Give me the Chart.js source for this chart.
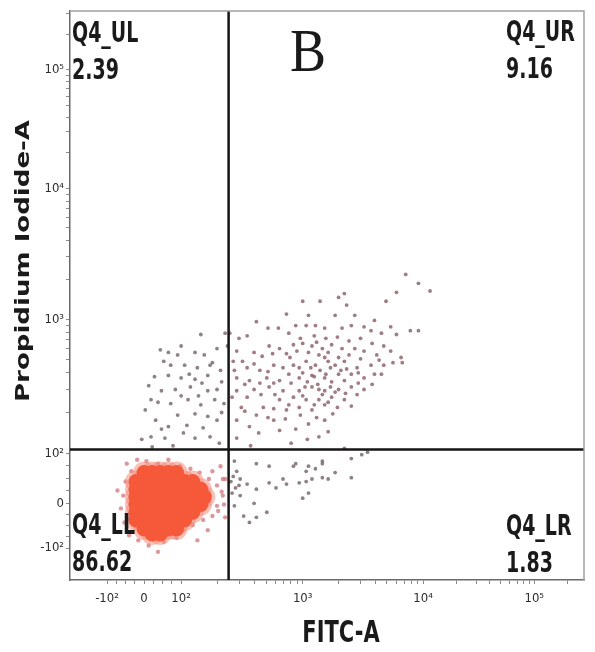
<!DOCTYPE html>
<html>
<head>
<meta charset="utf-8">
<script src="https://cdn.jsdelivr.net/npm/chart.js@4"></script>
<style>
  body { margin: 0; background: #fff; }
  #wrap { width: 595px; height: 652px; position: relative; }
</style>
</head>
<body>
<div id="wrap"><canvas id="plot"></canvas></div>
<script>
// axis units: display decades (biexponential-like), 10^3 = 3, 10^4 ~ 4 ...
const xRange = [0.99, 5.43]
const yRange = [1.01, 5.46]
const xTickVals = [1.31, 1.63, 1.95, 3, 4.04, 5]
const xTickLabels = ['-10²', '0', '10²', '10³', '10⁴', '10⁵']
const yTickVals = [1.26, 1.61, 2, 3.05, 4.07, 5]
const yTickLabels = ['-10²', '0', '10²', '10³', '10⁴', '10⁵']

// quadrant gate
const gateFitc = 2.36
const gatePI = 2.03
const quadNames = ['Q4_UL', 'Q4_UR', 'Q4_LL', 'Q4_LR']
const quadPercents = [2.39, 9.16, 86.62, 1.83]

// events [FITC, PI]
const ulEvents = [
  [2.12,2.93],[1.77,2.81],[1.84,2.79],[1.92,2.77],[2.07,2.79],[2.15,2.77],[2.26,2.82],[2.35,2.84],
  [1.86,2.69],[1.98,2.69],[2.09,2.67],[2.20,2.69],[2.29,2.65],
  [1.84,2.61],[1.95,2.59],[2.07,2.58],[2.18,2.61],
  [1.67,2.53],[1.78,2.49],[1.90,2.50],[2.03,2.52],[2.18,2.49],[2.26,2.50],
  [1.69,2.42],[1.86,2.39],[2.01,2.42],[2.12,2.38],[2.24,2.42],[2.32,2.39],
  [1.64,2.34],[1.73,2.26],[1.84,2.21],[1.78,2.19],[1.92,2.30],[2.07,2.31],[2.18,2.29],[2.26,2.26],
  [1.61,2.11],[1.69,2.13],[1.81,2.12],[2.07,2.12],[2.20,2.13],
  [1.72,2.60],[1.80,2.72],[1.95,2.84],[2.02,2.62],[2.13,2.55],[2.22,2.71],[2.30,2.56],[1.75,2.40],
  [1.95,2.45],[2.10,2.45],[2.30,2.32],[2.00,2.22],[2.14,2.20],[1.70,2.05],[1.88,2.06],[2.28,2.08],
  [1.97,2.16],[2.33,2.94]
]
const urEvents = [
  [3.89,3.40],[4.00,3.33],[4.10,3.27],[3.81,3.26],[3.72,3.19],[3.36,3.25],[3.31,3.22],[3.38,3.16],[3.00,3.19],[3.15,3.19],
  [2.86,3.09],[3.05,3.08],[3.28,3.08],[3.45,3.08],[3.62,3.04],[3.76,2.99],[3.93,2.96],[4.00,2.96],
  [2.70,2.98],[2.79,2.98],[2.94,3.00],[3.03,3.00],[3.11,3.00],[3.19,2.98],[3.34,2.98],[3.42,3.00],[3.53,2.99],[3.59,2.96],[3.68,2.94],[3.81,2.93],
  [2.37,2.94],[2.45,2.90],[2.52,2.92],
  [2.43,2.80],[2.58,2.79],[2.71,2.84],[2.80,2.82],[2.92,2.85],[3.00,2.86],[3.08,2.84],[3.17,2.82],[3.25,2.85],[3.34,2.82],[3.45,2.82],[3.53,2.80],[3.64,2.77],[3.76,2.80],[3.85,2.75],
  [2.41,2.65],[2.52,2.67],[2.63,2.65],[2.75,2.69],[2.83,2.67],[2.92,2.69],[3.03,2.72],[3.11,2.69],[3.19,2.75],[3.28,2.69],[3.36,2.72],[3.47,2.67],[3.59,2.69],[3.70,2.69],[3.86,2.71],
  [2.43,2.59],[2.54,2.57],[2.69,2.59],[2.80,2.57],[2.97,2.59],[3.08,2.61],[3.19,2.59],[3.31,2.62],[3.42,2.62],[3.53,2.59],[3.62,2.62],
  [2.43,2.49],[2.58,2.50],[2.71,2.52],[2.83,2.49],[2.97,2.49],[3.08,2.52],[3.19,2.49],[3.31,2.50],[3.42,2.52],[3.53,2.50],
  [2.80,2.42],[2.92,2.44],[3.03,2.42],[3.14,2.42],[3.25,2.44],[3.36,2.42],[3.47,2.46],
  [2.66,2.36],[2.75,2.35],[2.86,2.34],[2.97,2.36],[3.08,2.34],[3.19,2.38],
  [2.43,2.26],[2.54,2.21],[2.75,2.26],[2.94,2.19],[3.05,2.23],[3.19,2.26],[3.04,2.11],[3.14,2.13],[2.43,2.12],[3.36,2.04],
  [3.05,2.79],[3.14,2.77],[3.22,2.79],[3.31,2.75],[3.07,2.67],[3.15,2.65],[3.24,2.67],[3.33,2.65],
  [3.04,2.56],[3.13,2.54],[3.25,2.56],[3.36,2.57],[3.17,2.46],[3.28,2.48],[2.89,2.75],[2.97,2.67],
  [2.88,2.94],[2.98,2.90],[3.10,2.92],[3.20,2.90],[3.30,2.91],[3.40,2.88],[3.50,2.90],[3.60,2.86],[3.70,2.84],
  [2.65,2.76],[2.74,2.78],[2.86,2.78],[2.95,2.80],[3.12,2.87],[3.22,2.72],[3.40,2.77],[3.50,2.74],[3.66,2.73],[3.78,2.71],
  [2.48,2.72],[2.58,2.70],[2.70,2.64],[2.88,2.62],[3.00,2.63],[3.10,2.60],[3.20,2.62],[3.38,2.66],[3.48,2.63],[3.68,2.62],
  [2.50,2.54],[2.63,2.55],[2.75,2.55],[2.90,2.55],[3.02,2.52],[3.14,2.50],[3.24,2.52],[3.37,2.47],[3.48,2.55],[3.60,2.54],
  [2.52,2.44],[2.64,2.46],[2.76,2.46],[2.88,2.38],[3.00,2.45],[3.10,2.38],[3.22,2.40],[3.30,2.36],[3.42,2.37],
  [2.50,2.33],[2.60,2.30],[2.70,2.28],[2.85,2.27],[2.98,2.30],[3.12,2.28],[3.26,2.31],[2.62,2.16],[2.80,2.18],[3.22,2.17],
  [2.55,2.06],[2.90,2.08],[2.60,3.03],[2.40,2.72],[2.47,2.36],[2.39,2.44]
]
const lrEvents = [
  [2.60,1.92],[2.71,1.90],[2.94,1.92],[3.05,1.90],[3.17,1.92],[2.46,1.80],[2.60,1.72],[2.71,1.77],
  [2.83,1.80],[2.97,1.77],[3.08,1.80],[3.22,1.80],[2.46,1.67],[2.58,1.61],[2.69,1.54],[2.49,1.51],
  [2.54,1.46],[3.05,1.69],[2.92,1.90],[3.03,1.86],[3.11,1.88],[3.17,1.94],[3.28,1.85],[3.42,1.96],
  [3.51,1.99],[3.56,2.01],[2.52,1.76],[2.77,1.73],[2.86,1.76],[3.03,1.78],[3.17,1.81],[3.42,1.81],
  [3.00,1.65],[2.60,1.50],[2.41,1.94],[2.43,1.86],[2.41,1.59],
  [2.38,1.78],[2.42,1.73],[2.39,1.69],[2.45,1.75],[2.40,1.82]
]
// LL: dense population (core) and its sparse fringe
const llCore = [
  [1.63,1.85],[1.70,1.85],[1.77,1.85],[1.84,1.85],[1.91,1.85],
  [1.56,1.78],[1.63,1.78],[1.70,1.78],[1.77,1.78],[1.84,1.78],[1.91,1.78],[1.98,1.78],[2.05,1.78],
  [1.56,1.72],[1.63,1.72],[1.70,1.72],[1.77,1.72],[1.84,1.72],[1.91,1.72],[1.98,1.72],[2.05,1.72],[2.12,1.72],
  [1.56,1.66],[1.63,1.66],[1.70,1.66],[1.77,1.66],[1.84,1.66],[1.91,1.66],[1.98,1.66],[2.05,1.66],[2.12,1.66],[2.15,1.66],
  [1.56,1.60],[1.63,1.60],[1.70,1.60],[1.77,1.60],[1.84,1.60],[1.91,1.60],[1.98,1.60],[2.05,1.60],[2.12,1.60],
  [1.56,1.54],[1.63,1.54],[1.70,1.54],[1.77,1.54],[1.84,1.54],[1.91,1.54],[1.98,1.54],[2.05,1.54],
  [1.56,1.48],[1.63,1.48],[1.70,1.48],[1.77,1.48],[1.84,1.48],[1.91,1.48],[1.98,1.48],
  [1.63,1.41],[1.70,1.41],[1.77,1.41],[1.84,1.41],[1.91,1.41],
  [1.70,1.37],[1.77,1.37]
]
const llFringe = [
  [1.48,1.92],[1.57,1.95],[1.65,1.94],[1.75,1.92],[1.84,1.95],[1.94,1.90],[2.03,1.88],[2.11,1.85],
  [2.19,1.80],[2.26,1.75],[2.31,1.67],[2.26,1.59],[2.22,1.51],[2.14,1.48],[2.05,1.44],[1.97,1.40],
  [1.91,1.34],[1.80,1.31],[1.67,1.28],[1.58,1.32],[1.50,1.36],[1.46,1.46],[1.43,1.57],[1.45,1.67],
  [1.47,1.78],[1.52,1.86],[1.40,1.71],[2.22,1.86],[2.31,1.80],[2.09,1.32],[1.75,1.23],[2.18,1.40],
  [2.29,1.90],[2.33,1.80],[2.30,1.70],[2.32,1.60],[2.27,1.55],[2.33,1.50]
]

const toPoints = arr => arr.map(([x, y]) => ({ x, y }))

// minor ticks: quarters in the linear part, log steps in each decade
const minorTicks = (major, range) => {
  const out = []
  for (let i = 1; i < 4; i++) {
    out.push(major[0] + (major[1] - major[0]) * i / 4)
    out.push(major[1] + (major[2] - major[1]) * i / 4)
  }
  for (let d = 2; d < major.length; d++) {
    const w = d + 1 < major.length ? major[d + 1] - major[d] : major[d] - major[d - 1]
    for (let k = 2; k <= 9; k++) out.push(major[d] + Math.log10(k) * w)
  }
  return out.filter(v => v > range[0] && v < range[1])
}

const axisFor = (vals, labels, range, pad, fit) => ({
  type: 'linear',
  min: range[0],
  max: range[1],
  afterBuildTicks: scale => {
    scale.ticks = [...vals, ...minorTicks(vals, range)].sort((a, b) => a - b).map(value => ({ value }))
  },
  afterFit: fit,
  ticks: {
    autoSkip: false,
    maxRotation: 0,
    padding: pad,
    color: '#2e2e2e',
    font: { family: "'DejaVu Sans Condensed', 'DejaVu Sans'", size: 13 },
    callback: v => {
      const i = vals.findIndex(t => Math.abs(t - v) < 1e-9)
      return i < 0 ? '' : labels[i]
    }
  },
  grid: { drawOnChartArea: false, tickLength: 4, tickColor: '#8a8a8a', tickWidth: 1 },
  border: { color: '#6a6a6a', width: 1.5 }
})

const stretchText = (ctx, text, x, y, font, sy, align = 'left') => {
  ctx.save()
  ctx.translate(x, y)
  ctx.scale(1, sy)
  ctx.font = font
  ctx.textAlign = align
  ctx.textBaseline = 'alphabetic'
  ctx.fillText(text, 0, 0)
  ctx.restore()
}

const textPlugin = {
  id: 'flowText',
  afterDraw(chart) {
    const { ctx, chartArea: a } = chart
    ctx.save()
    ctx.strokeStyle = '#a0a0a0'
    ctx.lineWidth = 1.5
    ctx.beginPath()
    ctx.moveTo(a.left, a.top)
    ctx.lineTo(a.right, a.top)
    ctx.lineTo(a.right, a.bottom)
    ctx.stroke()

    ctx.fillStyle = '#1a1a1a'
    const qFont = "bold 19px 'DejaVu Sans'"
    const leftX = a.left + 2
    const rightX = a.right - 78
    const spots = [[leftX, a.top + 31], [rightX, a.top + 30], [leftX, a.bottom - 46], [rightX, a.bottom - 45]]
    quadNames.forEach((name, i) => {
      const [x, y] = spots[i]
      stretchText(ctx, name, x, y, qFont, 1.48)
      stretchText(ctx, quadPercents[i].toFixed(2), x, y + 37, qFont, 1.48)
    })

    stretchText(ctx, 'B', 290, a.top + 60, "54px 'Liberation Serif'", 1.15)

    // axis titles
    stretchText(ctx, 'FITC-A', 341, 642, "bold 21px 'DejaVu Sans'", 1.45, 'center')
    ctx.save()
    ctx.translate(29, 261)
    ctx.rotate(-Math.PI / 2)
    ctx.scale(1.37, 1)
    ctx.font = "bold 19px 'DejaVu Sans'"
    ctx.textAlign = 'center'
    ctx.textBaseline = 'alphabetic'
    ctx.fillText('Propidium Iodide-A', 0, 0)
    ctx.restore()
    ctx.restore()
  }
}

const gateLine = pts => ({
  type: 'line',
  data: pts,
  borderColor: '#141414',
  borderWidth: 2.5,
  pointRadius: 0,
  showLine: true,
  order: 0
})

const ctx = document.getElementById('plot')
new Chart(ctx, {
  type: 'scatter',
  data: {
    datasets: [
      gateLine([{ x: gateFitc, y: yRange[0] }, { x: gateFitc, y: yRange[1] }]),
      gateLine([{ x: xRange[0], y: gatePI }, { x: xRange[1], y: gatePI }]),
      {
        label: 'LL core',
        data: toPoints(llCore),
        backgroundColor: '#f5593a',
        borderWidth: 0,
        pointRadius: 7.5,
        order: 1
      },
      {
        label: 'LL core edge',
        data: toPoints(llCore),
        backgroundColor: 'rgba(244,140,125,0.55)',
        borderWidth: 0,
        pointRadius: 11,
        order: 2
      },
      {
        label: 'LL fringe',
        data: toPoints(llFringe),
        backgroundColor: 'rgba(205,110,115,0.7)',
        borderWidth: 0,
        pointRadius: 2.2,
        order: 3
      },
      {
        label: 'UL',
        data: toPoints(ulEvents),
        backgroundColor: 'rgba(105,88,92,0.75)',
        borderWidth: 0,
        pointRadius: 1.9,
        order: 4
      },
      {
        label: 'UR',
        data: toPoints(urEvents),
        backgroundColor: 'rgba(128,82,88,0.75)',
        borderWidth: 0,
        pointRadius: 1.9,
        order: 4
      },
      {
        label: 'LR',
        data: toPoints(lrEvents),
        backgroundColor: 'rgba(105,88,92,0.75)',
        borderWidth: 0,
        pointRadius: 1.9,
        order: 4
      }
    ]
  },
  options: {
    responsive: true,
    maintainAspectRatio: false,
    animation: false,
    layout: { padding: { top: 3, right: 1, left: 0, bottom: 0 } },
    plugins: { legend: { display: false }, tooltip: { enabled: false } },
    scales: {
      x: axisFor(xTickVals, xTickLabels, xRange, 7, s => { s.height = 72 }),
      y: axisFor(yTickVals, yTickLabels, yRange, 2, s => { s.width = 70 })
    }
  },
  plugins: [textPlugin]
})
</script>
</body>
</html>
